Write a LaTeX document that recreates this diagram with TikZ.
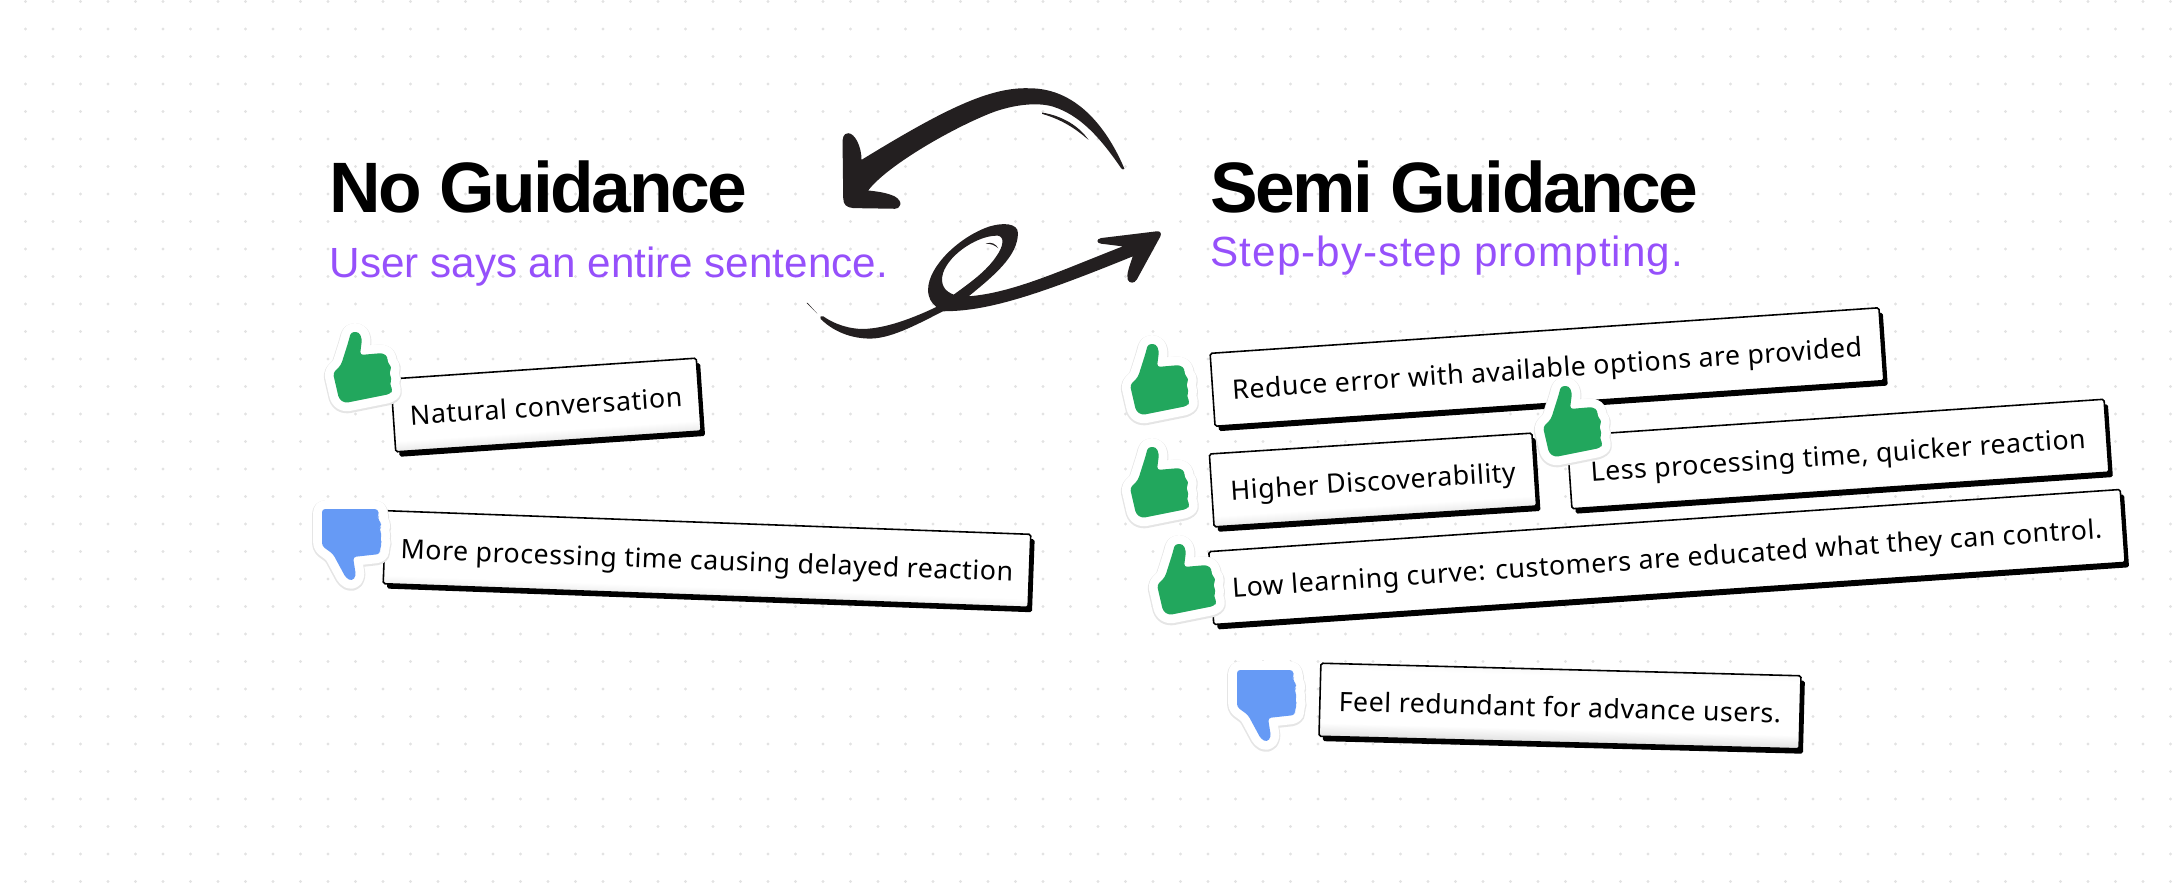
\documentclass[tikz,border=0pt]{standalone}
\usepackage{fontspec}
\usetikzlibrary{shadows}
\setmainfont{Liberation Sans}
\newfontfamily\titlefont[LetterSpace=-3.6]{Liberation Sans}
\newfontfamily\tagfont[LetterSpace=2]{Noto Sans}
\newfontfamily\stepfont[LetterSpace=2.5]{Liberation Sans}

\definecolor{inkblack}{HTML}{231F20}
\definecolor{upgreen}{HTML}{22A75D}
\definecolor{downblue}{HTML}{669AF5}
\definecolor{subpurple}{HTML}{9650FB}
\definecolor{griddot}{HTML}{E3E3E3}
\pgfdeclareverticalshading{tagshade}{100bp}{color(0bp)=(black!22); color(25bp)=(black!22); color(38bp)=(white); color(66bp)=(white); color(75bp)=(black!7); color(100bp)=(black!7)}

\begin{document}
\begin{tikzpicture}[x=0.01cm, y=-0.01cm,
  title/.style={anchor=base west, inner sep=0pt, font=\titlefont\bfseries\fontsize{20.3pt}{24pt}\selectfont},
  subtitle/.style={anchor=base west, inner sep=0pt, text=subpurple, font=\fontsize{12pt}{14pt}\selectfont},
  tag/.style={draw=black, line width=0.45pt, rounded corners=0.5pt, shading=tagshade, shading angle=#1, rotate=#1,
    inner sep=0pt, minimum height=0.73cm, text height=6.2pt, text depth=0pt, font=\tagfont\fontsize{7.6pt}{9pt}\selectfont,
    drop shadow={shadow xshift=1.1pt, shadow yshift=-1.4pt, fill=black, opacity=1}},
  brush/.style={fill=inkblack, even odd rule},
  sticker/.style={line join=round, draw=white, line width=5pt, rounded corners=0.9pt},
  thumbup/.pic={
    \def\thumbshape{(-30,6) -- (-22,-2) -- (-15,-24) -- (-12,-35) -- (-4,-35) -- (-1,-28) -- (-3,-12) -- (20,-14) -- (25,-10) -- (24,-5) -- (29,0) -- (26,6) -- (29,12) -- (26.5,17) -- (30,23) -- (27,27) -- (-18,36) -- (-24,32) -- cycle}
    \draw[sticker, draw=black!10, line width=5.6pt, yshift=-0.3pt] \thumbshape;
    \draw[sticker] \thumbshape;
    \fill[upgreen, rounded corners=0.9pt] \thumbshape;
  },
  thumbdown/.pic={
    \def\thumbshape{(-28,-31) -- (28,-31) -- (29,-24) -- (27,-22) -- (31,-18) -- (31,-13) -- (29,-11) -- (32,-6) -- (30,0) -- (32,3) -- (30,9) -- (30,14) -- (3,17) -- (6,36) -- (2,41) -- (-4,38) -- (-17,14) -- (-28,6) -- cycle}
    \draw[sticker, draw=black!10, line width=5.6pt, yshift=-0.3pt] \thumbshape;
    \draw[sticker] \thumbshape;
    \fill[downblue, rounded corners=0.9pt] \thumbshape;
  }
]
\useasboundingbox (0,0) rectangle (2177,884);
% dotted canvas
\foreach \i in {0,...,78}
  \foreach \j in {0,...,32}
    \fill[griddot] (25.5+27.5*\i,1.5+27.5*\j) circle (1.7);

% headings
\node[title] (noguide) at (329,212) {No Guidance};
\node[subtitle] (nosub) at (329,277) {User says an entire sentence.};
\node[title] (semiguide) at (1210,212) {Semi Guidance};
\node[subtitle, font=\stepfont\fontsize{12pt}{14pt}\selectfont] (semisub) at (1210,266) {Step-by-step prompting.};

% brush arrows
\begin{scope}[shift={(780,60)}, x=0.00333cm, y=-0.00333cm]
\fill[brush] (1035,327) .. controls (990,220) and (900,85) .. (750,85) .. controls (630,80) and (490,150) .. (245,300) .. controls (245,260) and (225,220) .. (205,220) .. controls (190,220) and (188,235) .. (188,250) -- (190,415) .. controls (190,435) and (200,443) .. (220,445) -- (345,447) .. controls (365,445) and (370,425) .. (345,410) .. controls (320,398) and (290,395) .. (265,392) .. controls (320,320) and (500,215) .. (620,165) .. controls (690,135) and (770,125) .. (820,140) .. controls (900,165) and (960,230) .. (1025,325) .. controls (1028,330) and (1033,330) .. cycle;
\fill[brush] (788,158) .. controls (850,168) and (900,200) .. (927,240) .. controls (890,208) and (850,180) .. (788,162) -- cycle;
\fill[brush] (122,778) .. controls (170,825) and (230,838) .. (275,837) .. controls (340,835) and (420,790) .. (490,755) .. controls (620,755) and (760,712) .. (1060,590) .. controls (1050,620) and (1040,645) .. (1045,660) .. controls (1050,672) and (1065,672) .. (1072,660) -- (1143,530) .. controls (1148,518) and (1140,513) .. (1130,515) -- (965,535) .. controls (950,538) and (950,550) .. (965,552) -- (1030,560) .. controls (850,630) and (700,700) .. (567,710) .. controls (640,650) and (715,590) .. (715,520) .. controls (715,490) and (670,488) .. (630,500) .. controls (540,530) and (445,620) .. (445,690) .. controls (445,715) and (455,730) .. (470,742) .. controls (380,785) and (300,810) .. (240,808) .. controls (190,805) and (150,785) .. (130,770) .. controls (122,768) and (118,772) .. cycle
  (522,705) .. controls (495,695) and (480,675) .. (490,640) .. controls (510,580) and (600,525) .. (655,528) .. controls (675,530) and (672,560) .. (650,590) .. controls (620,635) and (570,670) .. (522,705) -- cycle;
\fill[brush] (80,730) -- (83,730) -- (112,762) -- cycle;
\fill[brush] (618,552) .. controls (635,545) and (648,552) .. (656,566) .. controls (645,556) and (635,552) .. (618,552) -- cycle;
\end{scope}

% left column
\node[tag=3.9, minimum width=3.06cm] (natural) at (546,405) {Natural conversation};
\node[tag=-2.1, minimum width=6.45cm] (delay) at (707,559) {More processing time causing delayed reaction};

% right column
\node[tag=3.9, minimum width=6.7cm] (reduce) at (1547,367) {Reduce error with available options are provided};
\node[tag=3.7, minimum width=3.23cm] (discover) at (1373,480) {Higher Discoverability};
\node[tag=3.9, minimum width=5.38cm] (quicker) at (1838,454) {Less processing time, quicker reaction};
\node[tag=3.9, minimum width=9.13cm] (curve) at (1667,557) {Low learning curve: customers are educated what they can control.};
\node[tag=-1.5, minimum width=4.8cm] (redundant) at (1560,706) {Feel redundant for advance users.};

% stickers
\pic at (363,367) {thumbup};
\pic at (350,540) {thumbdown};
\pic at (1160,379) {thumbup};
\pic at (1160,482) {thumbup};
\pic at (1187,579) {thumbup};
\pic at (1573,421) {thumbup};
\pic at (1265,701) {thumbdown};
\end{tikzpicture}
\end{document}
